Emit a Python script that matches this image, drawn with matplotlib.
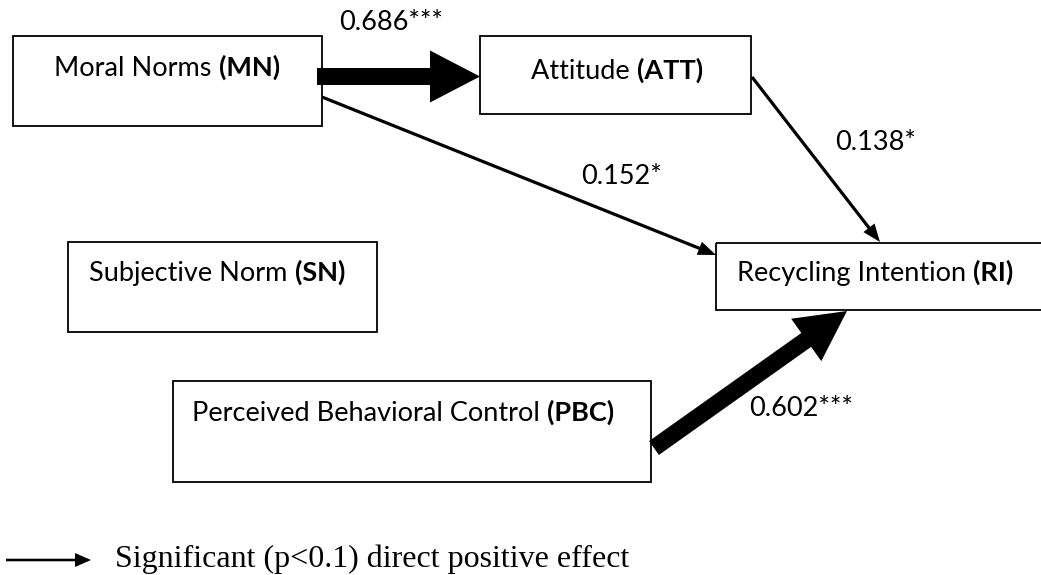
import matplotlib
matplotlib.use('Agg')
import matplotlib.pyplot as plt
from matplotlib.patches import Rectangle

# construct boxes: label, bold abbreviation, box (x0, y0, x1, y1) in pixels, text centre
node_names = ['Moral Norms', 'Attitude', 'Subjective Norm', 'Perceived Behavioral Control', 'Recycling Intention']
node_abbr = ['MN', 'ATT', 'SN', 'PBC', 'RI']
node_boxes = [(13, 36, 322, 126), (480, 36, 751, 114), (68, 242, 377, 332),
              (173, 381, 651, 482), (716, 243, 1045, 310)]
node_text_x = [167, 617, 217, 403, 875]
node_text_y = [67, 70, 272, 412, 272]

# paths: start, end, coefficient label, label position, strength (thick or thin)
path_start = [(317, 76.5), (322, 97), (752, 77), (654, 448)]
path_end = [(480, 76.5), (716, 255), (880, 242), (847, 311)]
path_coef = ['0.686***', '0.152*', '0.138*', '0.602***']
path_label_xy = [(391, 23), (622, 177), (876, 143), (801, 408)]
path_thick = [True, False, False, True]

legend_text = 'Significant (p<0.1) direct positive effect'

W, H = 1041, 575
fig = plt.figure(figsize=(W / 100, H / 100), dpi=100)
ax = fig.add_axes([0, 0, 1, 1])
ax.set_xlim(0, W)
ax.set_ylim(H, 0)
ax.axis('off')

sans = 'Lato'
fs = 19.5
inv = ax.transData.inverted()

for name, abbr, box, cx, cy in zip(node_names, node_abbr, node_boxes, node_text_x, node_text_y):
    x0, y0, x1, y1 = box
    ax.add_patch(Rectangle((x0, y0), x1 - x0, y1 - y0, fill=False, ec='black', lw=1.3))
    base = cy + 9
    t1 = ax.text(0, base, name + ' ', fontsize=fs, family=sans, va='baseline', ha='left')
    t2 = ax.text(0, base, '(' + abbr + ')', fontsize=fs, family=sans, weight='bold',
                 va='baseline', ha='left')
    fig.canvas.draw()
    b1 = t1.get_window_extent().transformed(inv)
    b2 = t2.get_window_extent().transformed(inv)
    w1 = b1.x1 - b1.x0
    w2 = b2.x1 - b2.x0
    left = cx - (w1 + w2) / 2
    t1.set_x(left)
    t2.set_x(left + w1)

for (xs, ys), (xe, ye), coef, (lx, ly), thick in zip(path_start, path_end, path_coef, path_label_xy, path_thick):
    if thick:
        w, hw, hl = 17, 52, 50
    else:
        w, hw, hl = 3.2, 14, 18
    ax.arrow(xs, ys, xe - xs, ye - ys, width=w, head_width=hw, head_length=hl,
             length_includes_head=True, fc='black', ec='black', lw=0)
    ax.text(lx, ly, coef, fontsize=fs, family=sans, ha='center', va='center')

# legend
ax.arrow(6, 560, 85, 0, width=2.6, head_width=14, head_length=16,
         length_includes_head=True, fc='black', ec='black', lw=0)
ax.text(115, 567, legend_text, fontsize=23, family='Liberation Serif', ha='left', va='baseline')

plt.savefig('out.png', dpi=100)
